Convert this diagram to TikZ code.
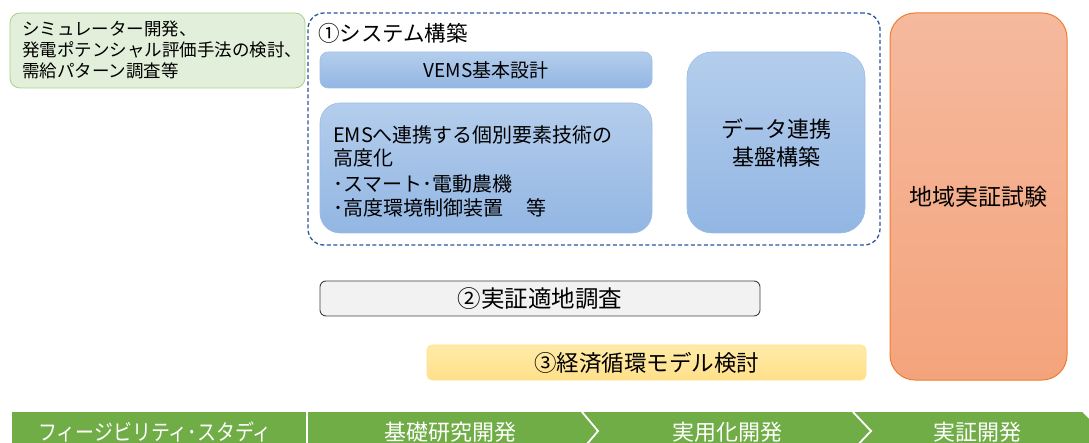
\documentclass[tikz,border=0pt]{standalone}
\usepackage{fontspec}
\usepackage{graphicx}
\newfontfamily\jp{Noto Sans CJK JP}
\definecolor{gfill}{HTML}{E2EFDA}
\definecolor{gdraw}{HTML}{A9D18E}
\definecolor{dashc}{HTML}{2F5597}
\definecolor{btop}{HTML}{B4CDEC}
\definecolor{bbot}{HTML}{92B6E3}
\definecolor{bdraw}{HTML}{9DBDE4}
\definecolor{otop}{HTML}{F5B99E}
\definecolor{obot}{HTML}{F4A47C}
\definecolor{odraw}{HTML}{ED7D31}
\definecolor{greyf}{HTML}{F2F2F2}
\definecolor{greyd}{HTML}{404040}
\definecolor{ytop}{HTML}{FFEBA8}
\definecolor{ybot}{HTML}{FFE08A}
\definecolor{bar}{HTML}{70AD47}
\begin{document}
\begin{tikzpicture}[x=1pt,y=-1pt,
  every node/.style={font=\jp, text=black, inner sep=0pt, outer sep=0pt},
  greenbox/.style={fill=gfill, draw=gdraw, line width=0.8pt, rounded corners=10pt},
  bluebox/.style={top color=btop, bottom color=bbot, draw=bdraw, line width=0.6pt},
  phase/.style={text=white, font=\jp\fontsize{22}{26}\selectfont}
]
\useasboundingbox (0,0) rectangle (1089,443);
\clip (0,0) rectangle (1089,443);

% top-left green box
\node[greenbox, anchor=north west, minimum width=295pt, minimum height=75pt] (fs) at (10,13) {};
\node[anchor=west, align=left, font=\jp\fontsize{17.5}{21}\selectfont] (fstext) at (22,50)
  {シミュレーター開発、\\発電ポテンシャル評価手法の検討、\\需給パターン調査等};

% dashed system box
\node[anchor=north west, minimum width=572pt, minimum height=232pt, draw=dashc,
      dash pattern=on 4pt off 2.5pt, line width=1.3pt, rounded corners=16pt] (sys) at (308,13) {};
\node[anchor=west, font=\jp\fontsize{21.5}{24}\selectfont] (systitle) at (318,33) {①システム構築};

\node[bluebox, rounded corners=8pt, anchor=north west, minimum width=332pt, minimum height=36pt,
      font=\jp\fontsize{19}{22}\selectfont] (vems) at (320,52) {VEMS基本設計};

\node[bluebox, rounded corners=20pt, anchor=north west, minimum width=332pt, minimum height=130pt] (emsbox) at (320,103) {};
\node[anchor=west, align=left, font=\jp\fontsize{20}{23}\selectfont] (emstext) at (333,171)
  {EMSへ連携する個別要素技術の\\高度化\\[3pt]･スマート･電動農機\\[1pt]･高度環境制御装置\hspace{1.2em}等};

\node[bluebox, rounded corners=25pt, anchor=north west, minimum width=178pt, minimum height=181pt,
      align=center, font=\jp\fontsize{22}{28}\selectfont] (data) at (687,52) {データ連携\\基盤構築};

% orange box
\node[top color=otop, bottom color=obot, draw=odraw, line width=1pt, rounded corners=25pt,
      anchor=north west, minimum width=177pt, minimum height=367pt,
      font=\jp\fontsize{23}{26}\selectfont] (field) at (890,13) {地域実証試験};

% site survey
\node[fill=greyf, draw=greyd, line width=0.9pt, rounded corners=6pt, anchor=north west,
      minimum width=440pt, minimum height=35pt, font=\jp\fontsize{23.5}{26}\selectfont] (site) at (320,281) {②実証適地調査};

% economic model
\node[top color=ytop, bottom color=ybot, draw=ybot, line width=0.6pt, rounded corners=5pt, anchor=north west,
      minimum width=439pt, minimum height=35pt, font=\jp\fontsize{22.5}{26}\selectfont] (econ) at (427,345) {③経済循環モデル検討};

% bottom phase bar
\fill[bar] (12,412) -- (1082,412) -- (1101,431) -- (1082,450) -- (12,450) -- cycle;
\draw[white, line width=2pt] (307,412) -- (307,450);
\draw[white, line width=1.8pt] (582,412) -- (598,431) -- (582,450);
\draw[white, line width=1.8pt] (853,412) -- (871,431) -- (853,450);
\node[phase] (p1) at (155,432) {\scalebox{0.86}[1]{フィージビリティ･スタディ}};
\node[phase] (p2) at (450,432) {基礎研究開発};
\node[phase] (p3) at (727,432) {実用化開発};
\node[phase] (p4) at (977,432) {実証開発};
\end{tikzpicture}
\end{document}
